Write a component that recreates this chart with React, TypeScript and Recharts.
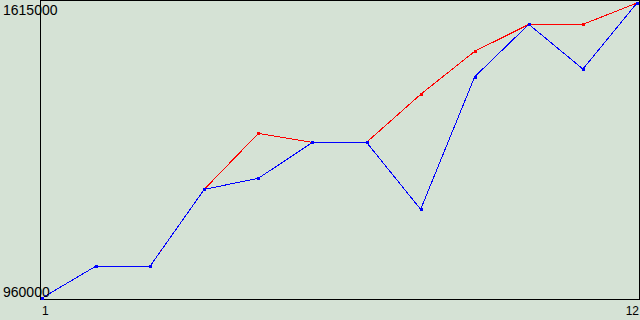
/* Two-series line chart on a boxed plot, min/max labels only. */

import { Line, LineChart, XAxis, YAxis } from "recharts";

const periods = [1, 2, 3, 4, 5, 6, 7, 8, 9, 10, 11, 12];
const blueValues = [960000, 1031000, 1031000, 1201300, 1225700, 1305600, 1305600, 1156900, 1451300, 1567600, 1468400, 1615000];
const redValues = [960000, 1031000, 1031000, 1201300, 1325600, 1305600, 1305600, 1412200, 1507700, 1567600, 1567600, 1615000];
const yTicks = [960000, 1615000];
const xTicks = [1, 12];

const Y_MIN = 960000;
const Y_MAX = 1615000;
const FONT = "'Liberation Sans', Arial, sans-serif";

const data = periods.map((p, i) => ({ p, blue: blueValues[i], red: redValues[i] }));

function squareDot(color: string) {
  return (props: any) => {
    const { cx, cy, index } = props;
    if (cx == null || cy == null) return null;
    return <rect key={index} x={Math.round(cx) - 1.5} y={Math.round(cy) - 1.5} width={3} height={3} fill={color} shapeRendering="crispEdges" />;
  };
}

function YTick(props: any) {
  const { y, payload } = props;
  const top = payload.value === Y_MAX;
  return (
    <text x={3} y={y + (top ? 12 : -1)} fontSize={14} fontFamily={FONT} fill="#000" textAnchor="start">
      {payload.value}
    </text>
  );
}

function XTick(props: any) {
  const { x, y, payload } = props;
  const first = payload.value === xTicks[0];
  return (
    <text x={first ? x : x + 2} y={y + 9} fontSize={12} fontFamily={FONT} fill="#000" textAnchor={first ? "start" : "end"}>
      {payload.value}
    </text>
  );
}

export default function App() {
  return (
    <div style={{ position: "fixed", left: 0, top: 0, width: 640, height: 320, background: "#d5e2d5" }}>
      <style>{".recharts-curve{shape-rendering:crispEdges}"}</style>
      <div style={{ position: "absolute", left: 40, top: 0, width: 600, height: 300, boxSizing: "border-box", border: "1px solid #000" }} />
      <div style={{ position: "absolute", left: 0, top: 0 }}>
        <LineChart width={640} height={320} data={data} margin={{ top: 3, right: 3, bottom: 0, left: 0 }}>
          <XAxis
            dataKey="p"
            type="number"
            domain={[1, 12]}
            ticks={xTicks}
            axisLine={false}
            tickLine={false}
            tick={<XTick />}
            height={22}
            interval={0}
          />
          <YAxis
            type="number"
            domain={[Y_MIN, Y_MAX]}
            ticks={yTicks}
            axisLine={false}
            tickLine={false}
            tick={<YTick />}
            width={42}
            interval={0}
          />
          <Line dataKey="red" stroke="#ff0000" strokeWidth={1} dot={squareDot("#ff0000")} activeDot={false} isAnimationActive={false} type="linear" />
          <Line dataKey="blue" stroke="#0000ff" strokeWidth={1} dot={squareDot("#0000ff")} activeDot={false} isAnimationActive={false} type="linear" />
        </LineChart>
      </div>
    </div>
  );
}
